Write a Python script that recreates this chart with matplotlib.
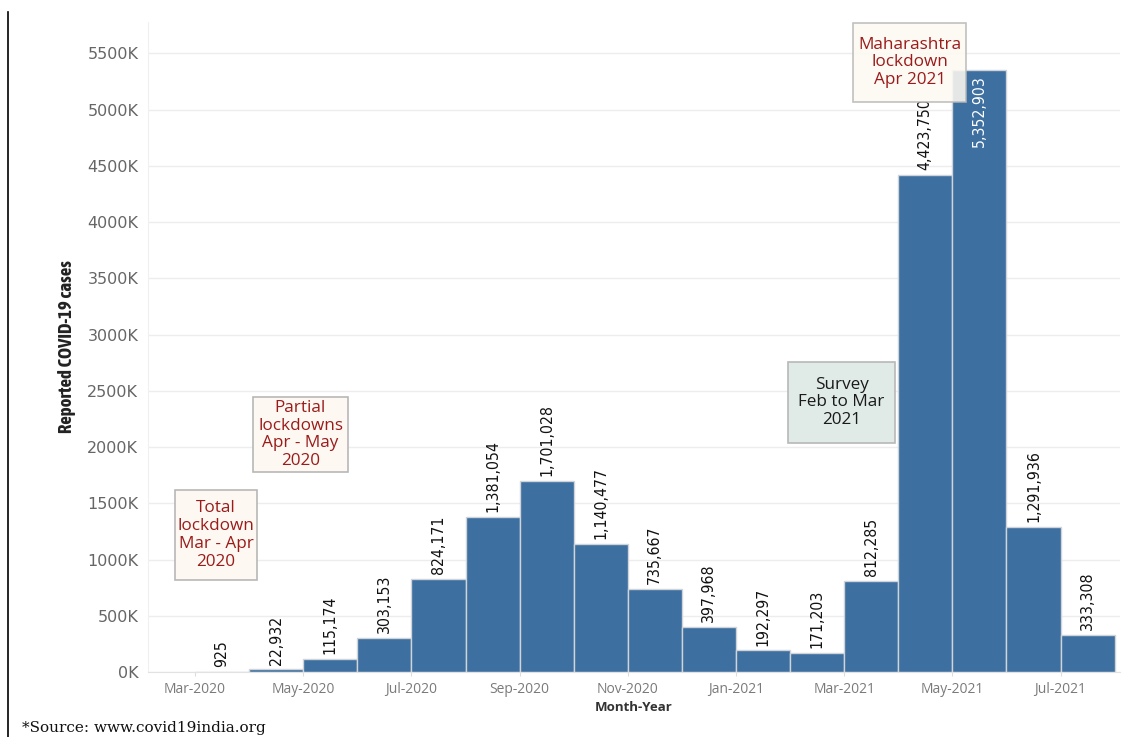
import matplotlib
matplotlib.use("Agg")
import matplotlib.pyplot as plt
from matplotlib.patches import Rectangle
from matplotlib.lines import Line2D
from matplotlib import font_manager as fm
from matplotlib.transforms import ScaledTranslation

months = ["Mar-2020", "Apr-2020", "May-2020", "Jun-2020", "Jul-2020", "Aug-2020",
          "Sep-2020", "Oct-2020", "Nov-2020", "Dec-2020", "Jan-2021", "Feb-2021",
          "Mar-2021", "Apr-2021", "May-2021", "Jun-2021", "Jul-2021"]
cases = [925, 22932, 115174, 303153, 824171, 1381054, 1701028, 1140477, 735667,
         397968, 192297, 171203, 812285, 4423750, 5352903, 1291936, 333308]
ytick_values = [0, 500000, 1000000, 1500000, 2000000, 2500000, 3000000,
                3500000, 4000000, 4500000, 5000000, 5500000]
ytick_labels = ["0K", "500K", "1000K", "1500K", "2000K", "2500K", "3000K",
                "3500K", "4000K", "4500K", "5000K", "5500K"]
annotation_texts = ["Total\nlockdown\nMar - Apr\n2020",
                    "Partial\nlockdowns\nApr - May\n2020",
                    "Survey\nFeb to Mar\n2021",
                    "Maharashtra\nlockdown\nApr 2021"]

W, H = 1132, 737
fig = plt.figure(figsize=(W / 100, H / 100), dpi=100)

files = {f.fname.split('/')[-1] for f in fm.fontManager.ttflist}
names = {f.name for f in fm.fontManager.ttflist}
if "DejaVuSansCondensed.ttf" in files:
    narrow = dict(family="DejaVu Sans", stretch="condensed")
elif "Liberation Sans Narrow" in names:
    narrow = dict(family="Liberation Sans Narrow")
else:
    narrow = dict(family="DejaVu Sans")
if "Asap Condensed" in names:
    ylab_font = dict(family="Asap Condensed", weight="bold", size=13.5)
else:
    ylab_font = dict(narrow, weight="bold", size=10)
main_font = "Open Sans" if "Open Sans" in names else "DejaVu Sans"

def px(x, y):
    return x / W, 1 - y / H

left, right, top, bottom = 148, 1120, 22, 672
ax = fig.add_axes([left / W, 1 - bottom / H, (right - left) / W, (bottom - top) / H])

bar_color = "#3D6FA0"
x = list(range(len(months)))
ax.bar(x, cases, width=1.0, align="edge", color=bar_color, edgecolor="#d0d4d8",
       linewidth=1.0, zorder=2)

ax.set_xlim(-0.87, len(months) + 0.1)
ax.set_ylim(0, 5780000)

ax.set_yticks(ytick_values)
ax.set_yticklabels(ytick_labels, fontfamily="DejaVu Sans", fontsize=11.5,
                   color="#666666")
ax.get_yticklabels()[0].set_transform(
    ax.get_yticklabels()[0].get_transform() + ScaledTranslation(0, 8 / 100, fig.dpi_scale_trans))
ax.set_xticks(x[::2])
ax.set_xticklabels(months[::2], fontfamily=main_font, fontsize=10, color="#7a7a7a")
ax.tick_params(axis="y", length=0, pad=7)
ax.tick_params(axis="x", length=3, color="#dddddd", pad=4)

ax.grid(axis="y", color="#ededed", linewidth=1.0, zorder=0)
ax.set_axisbelow(True)
for s in ["top", "right"]:
    ax.spines[s].set_visible(False)
ax.spines["left"].set_color("#f0f0f0")
ax.spines["bottom"].set_color("#e2e2e2")

max_i = cases.index(max(cases))
for i, v in enumerate(cases):
    label = f"{v:,}"
    if i == max_i:
        ax.annotate(label, (i + 0.5, v), xytext=(0, -4), textcoords="offset points",
                    rotation=90, ha="center", va="top", fontsize=11.3,
                    color="white", zorder=4, **narrow)
    else:
        ax.annotate(label, (i + 0.5, v), xytext=(0, 3.5), textcoords="offset points",
                    rotation=90, ha="center", va="bottom", fontsize=11.3,
                    color="#111111", zorder=4, **narrow)

ax.set_ylabel("Reported COVID-19 cases", color="#222222", labelpad=8,
              fontdict=dict(family=ylab_font["family"], weight=ylab_font["weight"],
                            size=ylab_font["size"],
                            stretch=ylab_font.get("stretch", "normal")))
ax.set_xlabel("Month-Year", fontfamily=main_font, fontsize=9.5, fontweight="bold",
              color="#333333", labelpad=3)

# annotation boxes (pixel geometry)
boxes = [
    (175, 490, 82, 90, "#FDF9F2", "#9B1B1B", 1.0),
    (253, 397, 95, 75, "#FDF9F2", "#9B1B1B", 1.0),
    (788, 362, 107, 81, "#E0EBE7", "#1a1a1a", 1.0),
    (853, 23, 113, 79, "#FDF9F2", "#9B1B1B", 0.88),
]
for (bx, by, bw, bh, fc, tc, alpha), txt in zip(boxes, annotation_texts):
    x0, y0 = px(bx, by + bh)
    rect = Rectangle((x0, y0), bw / W, bh / H, transform=fig.transFigure,
                     facecolor=fc, edgecolor="#b8b8b8", linewidth=1.2,
                     alpha=alpha, zorder=5)
    fig.add_artist(rect)
    cx, cy = px(bx + bw / 2, by + bh / 2)
    fig.text(cx, cy, txt, ha="center", va="center", fontsize=12.3,
             fontfamily=main_font, fontweight="medium", color=tc,
             linespacing=1.15, zorder=6)

# left vertical line
fig.add_artist(Line2D([8 / W, 8 / W], [0, 1 - 12 / H], transform=fig.transFigure,
                      color="black", linewidth=1.2))

fig.text(22 / W, 1 - 721 / H, "*Source: www.covid19india.org", ha="left", va="top",
         fontsize=11, fontfamily="DejaVu Serif", color="#111111")

fig.savefig("out.png", dpi=100)
